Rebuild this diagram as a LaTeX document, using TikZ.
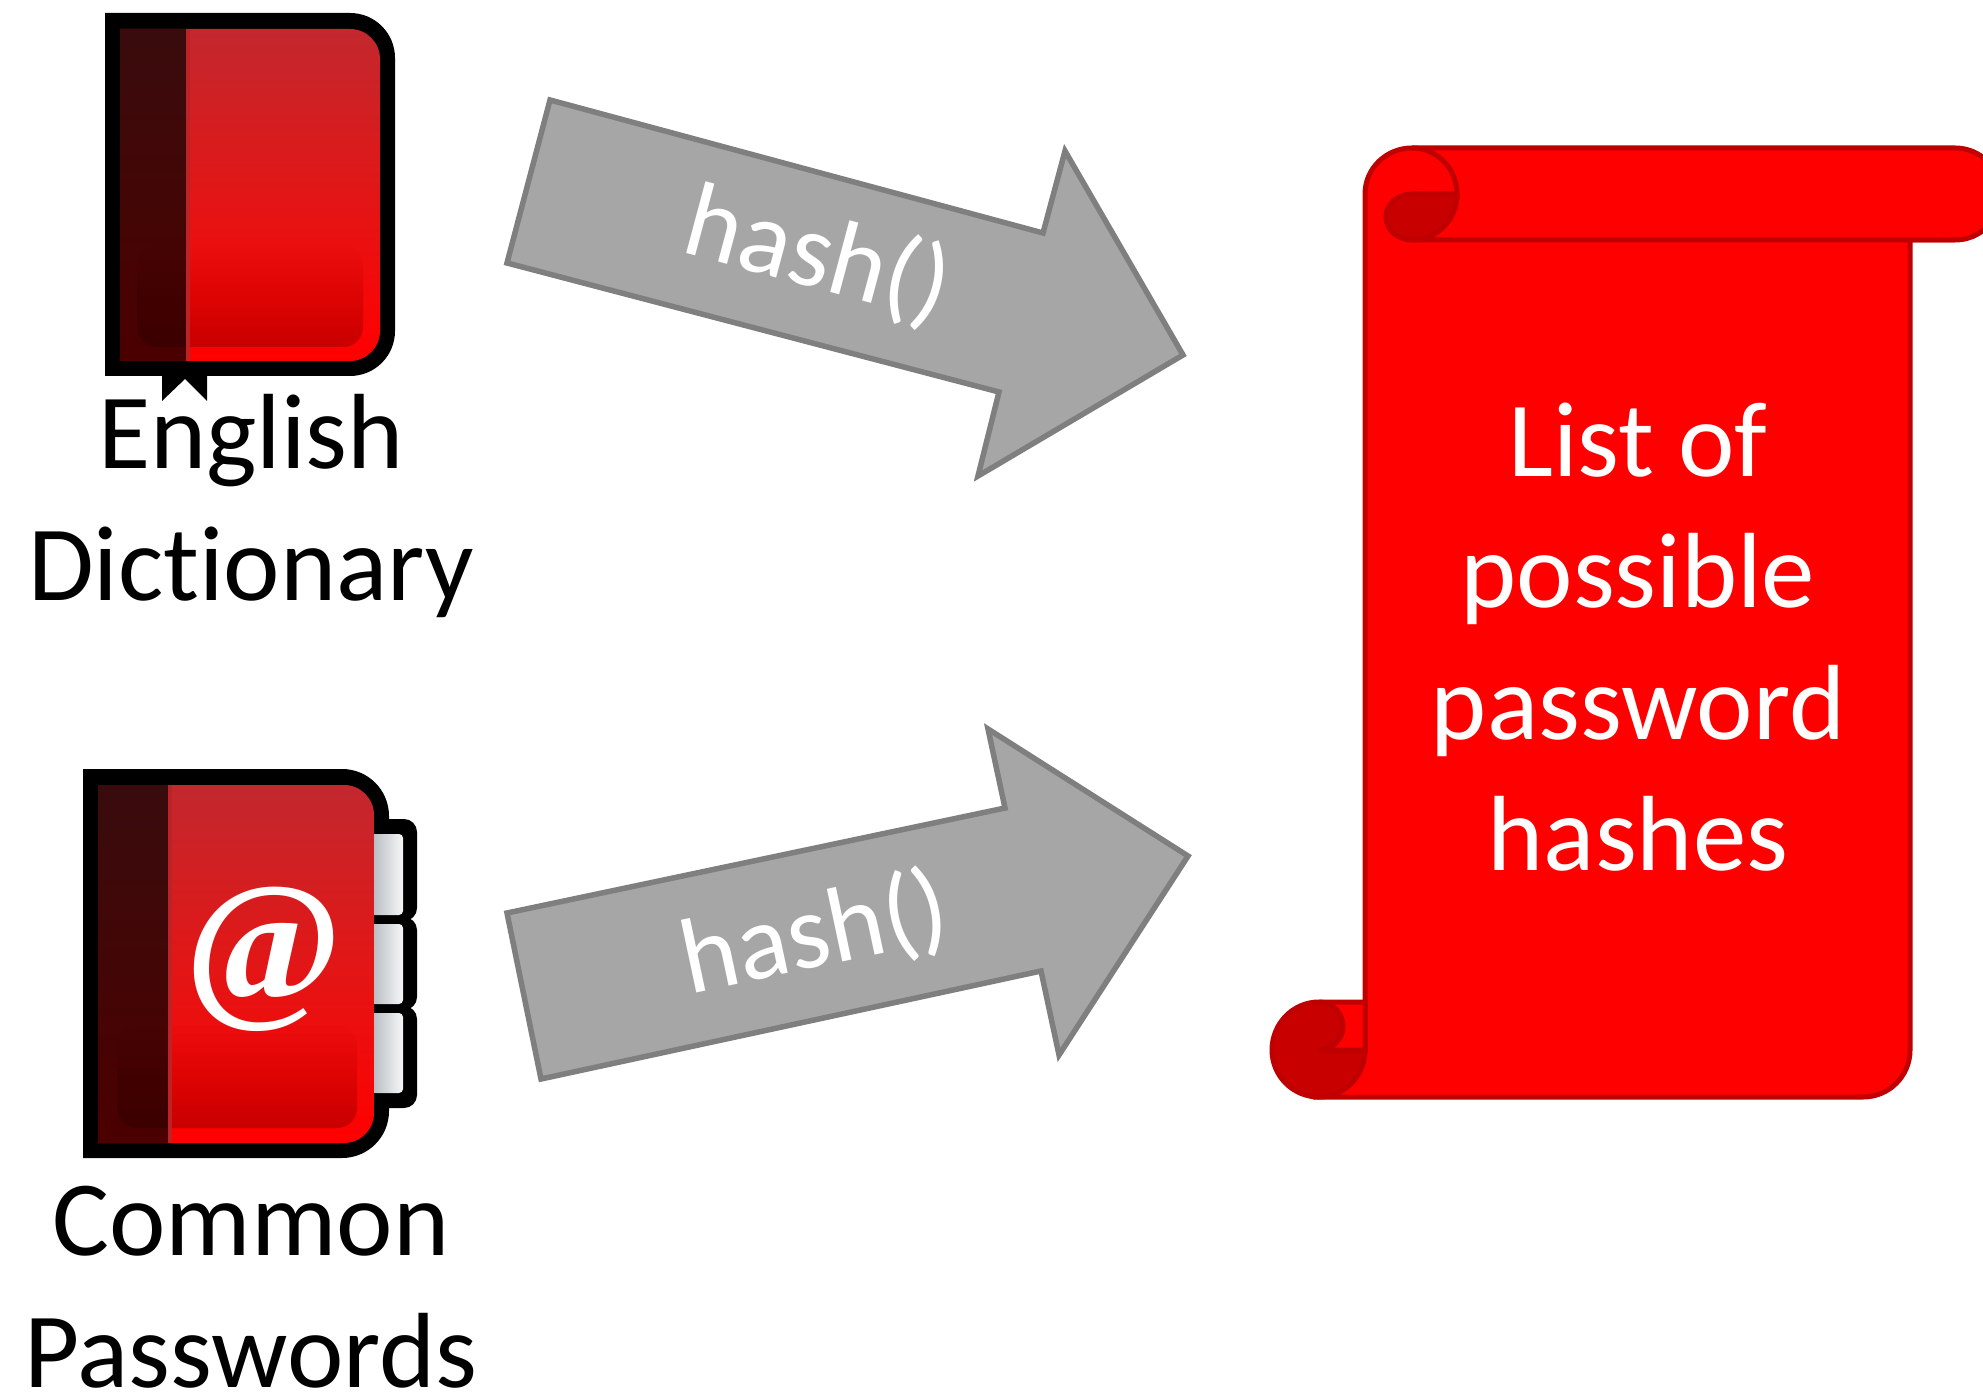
\documentclass[tikz,border=0pt]{standalone}
\usepackage{fontspec}
\setmainfont[Ligatures=NoCommon]{Carlito}
\newfontfamily\atfont{Liberation Serif}
\usetikzlibrary{fadings}
\definecolor{scrolledge}{RGB}{192,0,0}
\definecolor{scrolldark}{RGB}{200,0,0}
\definecolor{arrowfill}{RGB}{166,166,166}
\definecolor{arrowedge}{RGB}{127,127,127}
\definecolor{covertop}{RGB}{194,40,46}
\definecolor{covermid}{RGB}{226,22,22}
\definecolor{coverlow}{RGB}{200,0,0}
\definecolor{tabgrey}{RGB}{170,176,182}
\definecolor{spineedge}{RGB}{188,34,38}
\pgfdeclareverticalshading{coverbase}{100bp}{color(0bp)=(red); color(25bp)=(red); color(50bp)=(covermid); color(75bp)=(covertop); color(100bp)=(covertop)}
\tikzset{
  label/.style={font=\fontsize{30.4}{37.4}\selectfont,align=center,text=black},
  scrolltext/.style={label,text=white},
  hashtext/.style={font=\fontsize{30.4}{37}\selectfont,text=white},
  hasharrow/.style={fill=arrowfill,draw=arrowedge,line width=.55mm,miter limit=10},
  scrollpart/.style={fill=red,draw=scrolledge,line width=.5mm},
  scrollshade/.style={fill=scrolldark,draw=scrolledge,line width=.5mm},
  cover/.style={shading=coverbase},
  covershade/.style={rounded corners=.2cm,fill=coverlow,path fading=north},
  spine/.style={fill=black,fill opacity=.7},
  tabpage/.style={rounded corners=.04cm,left color=tabgrey,middle color=white,right color=white!90!tabgrey}
}
\begin{document}
\begin{tikzpicture}[x=.01cm,y=-.01cm]
  \useasboundingbox (0,0) rectangle (1983,1395);
  \clip (0,0) rectangle (1983,1395);

  % dictionary book
  \fill (105,13) -- (350,13) to[out=0,in=90] (395,58) -- (395,331) to[out=-90,in=0] (350,376) -- (207,376) -- (207,401) -- (185,379) -- (162,401) -- (162,376) -- (105,376) -- cycle;
  \path[cover] (120,29) [rounded corners=.3cm] -- (380,29) -- (380,361) -- (300,361) [sharp corners] -- (120,361) -- cycle;
  \path[covershade] (137,245) rectangle (363,347);
  \fill[spine] (120,29) rectangle (186,361);
  \fill[spineedge] (186,29) rectangle (190,361);

  % password book
  \begin{scope}[rounded corners=.13cm]
    \fill (360,819) rectangle (417,921);
    \fill (360,917) rectangle (417,1010);
    \fill (360,1006) rectangle (417,1108);
  \end{scope}
  \fill (83,769) -- (342,769) to[out=0,in=90] (389,816) -- (389,1111) to[out=-90,in=0] (342,1158) -- (83,1158) -- cycle;
  \fill[tabpage] (366,834) rectangle (403,915);
  \fill[tabpage] (366,924) rectangle (403,1004);
  \fill[tabpage] (366,1013) rectangle (403,1093);
  \path[cover] (98,785) [rounded corners=.3cm] -- (374,785) -- (374,1143) -- (300,1143) [sharp corners] -- (98,1143) -- cycle;
  \path[covershade] (117,1025) rectangle (357,1128);
  \fill[spine] (98,785) rectangle (168,1143);
  \fill[spineedge] (168,785) rectangle (172,1143);
  \node (at) at (264,959) {\fontsize{48}{48}\selectfont\atfont\bfseries\textcolor{white}{@}};

  % arrows
  \draw[hasharrow] (550,100) -- (1043,233) -- (1065,151) -- (1183,355) -- (978,476) -- (999,392) -- (507,263) -- cycle;
  \draw[hasharrow] (507,913) -- (1005,808) -- (988,729) -- (1188,856) -- (1059,1055) -- (1041,971) -- (541,1079) -- cycle;

  % scroll
  \draw[scrollpart] (1365,194) to[out=90,in=180] (1412,148) -- (1955,148) to[out=0,in=90] (2001,194) to[out=-90,in=0] (1955,240) -- (1910,240) -- (1910,1050) to[out=-90,in=0] (1863,1097) -- (1319,1097) -- (1365,1050) -- cycle;
  \draw[scrollpart] (1412,148) to[out=0,in=90] (1457,194) to[out=-90,in=0] (1412,240) -- (1955,240);
  \draw[scrollshade] (1457,194) -- (1412,194) to[out=180,in=90] (1386,217) to[out=-90,in=180] (1412,240) to[out=0,in=-90] (1457,194);
  \draw[scrollshade] (1319,1002) to[out=180,in=90] (1272,1050) to[out=-90,in=180] (1319,1097) to[out=0,in=-90] (1365,1050) -- (1319,1050) to[out=0,in=-90] (1343,1026) to[out=90,in=0] (1319,1002);
  \draw[scrollpart] (1319,1002) -- (1365,1002) -- (1365,1050) -- (1319,1050) to[out=0,in=-90] (1343,1026) to[out=90,in=0] (1319,1002);

  \begin{scope}[every node/.style={label}]
    \node (dict) at (251,506) {English\\Dictionary};
    \node (common) at (251,1287) {Common\\Passwords};
  \end{scope}
  \node[scrolltext] (list) at (1638,637) {List of\\possible\\password\\hashes};
  \node[hashtext,rotate=-15] (hashup) at (818,256) {hash()};
  \node[hashtext,rotate=12] (hashdown) at (815,935) {hash()};
\end{tikzpicture}
\end{document}
